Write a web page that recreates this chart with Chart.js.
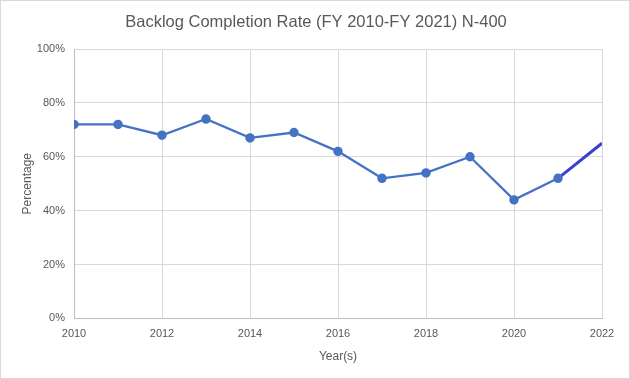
<!DOCTYPE html>
<html><head><meta charset="utf-8">
<script src="https://cdn.jsdelivr.net/npm/chart.js@4"></script>
<style>
html,body{margin:0;padding:0;background:#fff;}
#wrap{position:absolute;left:0;top:0;width:628px;height:377px;border:1px solid #D9D9D9;}
</style></head><body>
<div id="wrap"><canvas id="c" width="628" height="377"></canvas></div>
<script>
const years = [2010,2011,2012,2013,2014,2015,2016,2017,2018,2019,2020,2021];
const rates = [72,72,68,74,67,69,62,52,54,60,44,52];
const trendYears = [2021,2022];
const trendRates = [52,65];
const titleText = 'Backlog Completion Rate (FY 2010-FY 2021) N-400';
const xTitle = 'Year(s)';
const yTitle = 'Percentage';

const font = "'Liberation Sans', Arial, sans-serif";
const titlePlugin = {
  id:'centerTitle',
  afterDraw(chart){
    const ctx = chart.ctx;
    ctx.save();
    ctx.fillStyle = '#595959';
    ctx.font = "16.5px " + font;
    ctx.textAlign = 'center';
    ctx.textBaseline = 'middle';
    ctx.fillText(titleText, chart.width/2 + 1, 21);
    ctx.restore();
  }
};
new Chart(document.getElementById('c'), {
  type: 'line',
  data: {
    datasets: [
      {data: years.map((y,i)=>({x:y,y:rates[i]})), borderColor:'#4472C4', backgroundColor:'#4472C4',
       borderWidth:2.25, pointRadius:3.6, pointHoverRadius:3.6, tension:0},
      {data: trendYears.map((y,i)=>({x:y,y:trendRates[i]})), borderColor:'#3A3FCF',
       borderWidth:3, pointRadius:0, tension:0}
    ]
  },
  options: {
    responsive:false, animation:false,
    layout:{padding:{left:15,right:27,top:48,bottom:10}},
    plugins:{legend:{display:false}, tooltip:{enabled:false}, title:{display:false}},
    scales:{
      x:{type:'linear',min:2010,max:2022,
        ticks:{stepSize:2,color:'#595959',font:{family:font,size:11},padding:9,callback:v=>String(v)},
        grid:{color:'#D9D9D9',drawTicks:false},
        border:{color:'#BFBFBF'},
        title:{display:true,text:xTitle,color:'#595959',font:{family:font,size:12},padding:{top:0}}
      },
      y:{min:0,max:100,
        afterFit(s){ s.width = 58; },
        ticks:{stepSize:20,color:'#595959',font:{family:font,size:11},padding:9,callback:v=>v+'%'},
        grid:{color:'#D9D9D9',drawTicks:false},
        border:{color:'#BFBFBF'},
        title:{display:true,text:yTitle,color:'#595959',font:{family:font,size:12},padding:{bottom:4}}
      }
    }
  },
  plugins:[titlePlugin]
});
</script></body></html>
